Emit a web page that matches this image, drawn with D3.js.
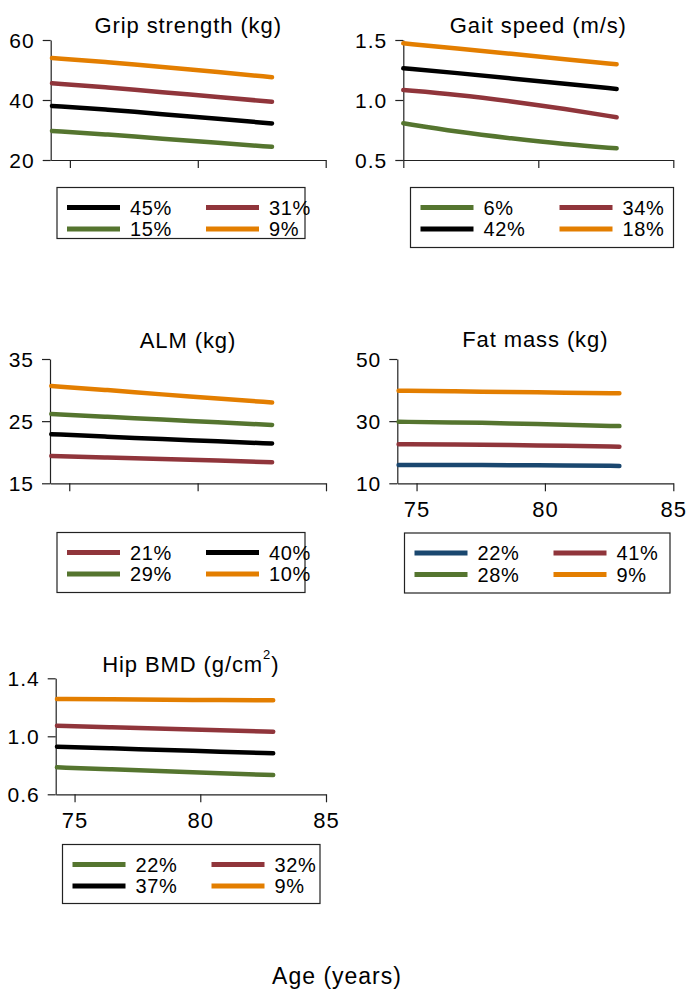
<!DOCTYPE html>
<html>
<head>
<meta charset="utf-8">
<script src="https://cdn.jsdelivr.net/npm/d3@7/dist/d3.min.js"></script>
<style>
  html, body { margin: 0; padding: 0; background: #fff; }
  svg { display: block; font-family: "Liberation Sans", Arial, sans-serif; }
</style>
</head>
<body>
<svg id="chart" width="689" height="991"></svg>
<script>
// Predicted trajectories by latent class, ages 74–83
const ages = [74.3, 76.5, 78.6, 80.8, 82.9];
const gaitAges = [75.0, 77.0, 79.0, 81.0, 82.9];
const xTicks = [75, 80, 85];

// Grip strength (kg)
const gripBlack = [38.0, 36.8, 35.3, 33.7, 32.2];
const gripRed = [45.6, 44.2, 42.6, 41.0, 39.4];
const gripGreen = [29.7, 28.5, 27.1, 25.7, 24.4];
const gripOrange = [54.0, 52.6, 51.0, 49.3, 47.6];
const gripShares = ["45%", "31%", "15%", "9%"];
const gripTicks = [20, 40, 60];

// Gait speed (m/s)
const gaitGreen = [0.806, 0.735, 0.68, 0.63, 0.597];
const gaitRed = [1.083, 1.045, 0.99, 0.925, 0.856];
const gaitBlack = [1.264, 1.225, 1.18, 1.135, 1.092];
const gaitOrange = [1.472, 1.43, 1.385, 1.34, 1.297];
const gaitShares = ["6%", "34%", "42%", "18%"];
const gaitTicks = [0.5, 1.0, 1.5];

// ALM (kg)
const almRed = [19.4, 19.15, 18.9, 18.65, 18.4];
const almBlack = [22.9, 22.5, 22.1, 21.75, 21.4];
const almGreen = [26.15, 25.7, 25.25, 24.8, 24.4];
const almOrange = [30.66, 30.0, 29.3, 28.65, 28.0];
const almShares = ["21%", "40%", "29%", "10%"];
const almTicks = [15, 25, 35];

// Fat mass (kg)
const fatBlue = [15.9, 15.9, 15.85, 15.75, 15.6];
const fatRed = [22.6, 22.5, 22.3, 22.05, 21.8];
const fatGreen = [29.8, 29.6, 29.3, 28.85, 28.4];
const fatOrange = [39.8, 39.6, 39.4, 39.15, 38.96];
const fatShares = ["22%", "41%", "28%", "9%"];
const fatTicks = [10, 30, 50];

// Hip BMD (g/cm2)
const hipGreen = [0.786, 0.772, 0.758, 0.745, 0.733];
const hipRed = [1.073, 1.062, 1.052, 1.042, 1.032];
const hipBlack = [0.928, 0.917, 0.905, 0.894, 0.883];
const hipOrange = [1.257, 1.255, 1.252, 1.25, 1.248];
const hipShares = ["22%", "32%", "37%", "9%"];
const hipTicks = [0.6, 1.0, 1.4];

const C = {
  black: "#000000",
  red: "#90353b",
  green: "#55752f",
  orange: "#e37e00",
  blue: "#1a476f"
};

const FONT = '"Liberation Sans", Arial, sans-serif';
const svg = d3.select("#chart");

const panels = [
  {
    title: "Grip strength (kg)", titleY: 33,
    xDomain: [74.25, 85], xRange: [50.7, 325.7],
    yDomain: [20, 60], yRange: [160, 40], yTicks: gripTicks, yFmt: d3.format("d"),
    xLabels: false, x: ages,
    series: [
      { v: gripBlack, c: C.black, s: gripShares[0] },
      { v: gripRed, c: C.red, s: gripShares[1] },
      { v: gripGreen, c: C.green, s: gripShares[2] },
      { v: gripOrange, c: C.orange, s: gripShares[3] }
    ],
    legend: { x: 57, y: 187.5, w: 248, h: 51 }
  },
  {
    title: "Gait speed (m/s)", titleY: 33,
    xDomain: [75, 85], xRange: [403.3, 673.3],
    yDomain: [0.5, 1.5], yRange: [160, 40], yTicks: gaitTicks, yFmt: d3.format(".1f"),
    xLabels: false, x: gaitAges,
    series: [
      { v: gaitGreen, c: C.green, s: gaitShares[0] },
      { v: gaitRed, c: C.red, s: gaitShares[1] },
      { v: gaitBlack, c: C.black, s: gaitShares[2] },
      { v: gaitOrange, c: C.orange, s: gaitShares[3] }
    ],
    legend: { x: 410.5, y: 187.5, w: 263, h: 60 }
  },
  {
    title: "ALM (kg)", titleY: 348,
    xDomain: [74.25, 85], xRange: [50, 326],
    yDomain: [15, 35], yRange: [483.3, 359], yTicks: almTicks, yFmt: d3.format("d"),
    xLabels: false, x: ages,
    series: [
      { v: almRed, c: C.red, s: almShares[0] },
      { v: almBlack, c: C.black, s: almShares[1] },
      { v: almGreen, c: C.green, s: almShares[2] },
      { v: almOrange, c: C.orange, s: almShares[3] }
    ],
    legend: { x: 57, y: 532.5, w: 248, h: 60 }
  },
  {
    title: "Fat mass (kg)", titleY: 347,
    xDomain: [74.25, 85], xRange: [397.3, 673.3],
    yDomain: [10, 50], yRange: [483.3, 359], yTicks: fatTicks, yFmt: d3.format("d"),
    xLabels: true, x: ages,
    series: [
      { v: fatBlue, c: C.blue, s: fatShares[0] },
      { v: fatRed, c: C.red, s: fatShares[1] },
      { v: fatGreen, c: C.green, s: fatShares[2] },
      { v: fatOrange, c: C.orange, s: fatShares[3] }
    ],
    legend: { x: 404.5, y: 533, w: 265.5, h: 60 }
  },
  {
    title: "Hip BMD (g/cm", sup: "2", titleTail: ")", titleY: 672,
    xDomain: [74.25, 85], xRange: [55.7, 326],
    yDomain: [0.6, 1.4], yRange: [794.3, 678.3], yTicks: hipTicks, yFmt: d3.format(".1f"),
    xLabels: true, x: ages,
    series: [
      { v: hipGreen, c: C.green, s: hipShares[0] },
      { v: hipRed, c: C.red, s: hipShares[1] },
      { v: hipBlack, c: C.black, s: hipShares[2] },
      { v: hipOrange, c: C.orange, s: hipShares[3] }
    ],
    legend: { x: 62.5, y: 844.5, w: 257.5, h: 59 }
  }
];

const AXIS_COLOR = "#222";

panels.forEach(p => {
  const x = d3.scaleLinear().domain(p.xDomain).range(p.xRange);
  const y = d3.scaleLinear().domain(p.yDomain).range(p.yRange);
  const g = svg.append("g");

  // y axis
  const ya = g.append("g")
    .attr("transform", `translate(${p.xRange[0]},0)`)
    .call(d3.axisLeft(y).tickValues(p.yTicks).tickFormat(p.yFmt).tickSize(8).tickSizeOuter(0).tickPadding(8));
  // x axis
  const xa = g.append("g")
    .attr("transform", `translate(0,${p.yRange[0]})`)
    .call(d3.axisBottom(x).tickValues(xTicks).tickSize(8).tickSizeOuter(0).tickPadding(10)
      .tickFormat(p.xLabels ? d3.format("d") : () => ""));

  [ya, xa].forEach(a => {
    a.selectAll("path.domain").attr("stroke", AXIS_COLOR).attr("stroke-width", 1.2);
    a.selectAll(".tick line").attr("stroke", AXIS_COLOR).attr("stroke-width", 1.2);
    a.selectAll(".tick text")
      .attr("fill", "#000")
      .style("font-family", FONT)
      .style("font-size", "21px")
      .style("letter-spacing", "1px");
  });
  ya.selectAll(".tick text").attr("dy", "0.36em");
  xa.selectAll(".tick text").style("font-size", "22px");

  // series lines
  const line = d3.line()
    .x((d, i) => x(p.x[i]))
    .y(d => y(d))
    .curve(d3.curveBasis);
  p.series.forEach(s => {
    g.append("path")
      .datum(s.v)
      .attr("d", line)
      .attr("fill", "none")
      .attr("stroke", s.c)
      .attr("stroke-width", 4.5)
      .attr("stroke-linecap", "round");
  });

  // title
  const cx = (p.xRange[0] + p.xRange[1]) / 2;
  const t = g.append("text")
    .attr("x", cx)
    .attr("y", p.titleY)
    .attr("text-anchor", "middle")
    .style("font-family", FONT)
    .style("font-size", "22px")
    .style("letter-spacing", "0.9px")
    .attr("fill", "#000");
  t.append("tspan").text(p.title);
  if (p.sup) {
    t.append("tspan").attr("dy", -13).style("font-size", "13px").text(p.sup);
    t.append("tspan").attr("dy", 13).text(p.titleTail);
  }

  // legend
  const L = p.legend;
  const lg = g.append("g").attr("transform", `translate(${L.x},${L.y})`);
  lg.append("rect")
    .attr("width", L.w).attr("height", L.h)
    .attr("fill", "#fff").attr("stroke", "#222").attr("stroke-width", 1.2);
  p.series.forEach((s, i) => {
    const col = i % 2, row = Math.floor(i / 2);
    const lx = col === 0 ? 10 : 149;
    const ly = 20 + row * 21.5;
    lg.append("line")
      .attr("x1", lx).attr("x2", lx + 53)
      .attr("y1", ly).attr("y2", ly)
      .attr("stroke", s.c).attr("stroke-width", 5);
    lg.append("text")
      .attr("x", lx + 63).attr("y", ly)
      .attr("dy", "0.36em")
      .style("font-family", FONT)
      .style("font-size", "20px")
      .style("letter-spacing", "0.6px")
      .attr("fill", "#000")
      .text(s.s);
  });
});

// shared x-axis title
svg.append("text")
  .attr("x", 337)
  .attr("y", 984)
  .attr("text-anchor", "middle")
  .style("font-family", FONT)
  .style("font-size", "23px")
  .style("letter-spacing", "1px")
  .attr("fill", "#000")
  .text("Age (years)");
</script>
</body>
</html>
